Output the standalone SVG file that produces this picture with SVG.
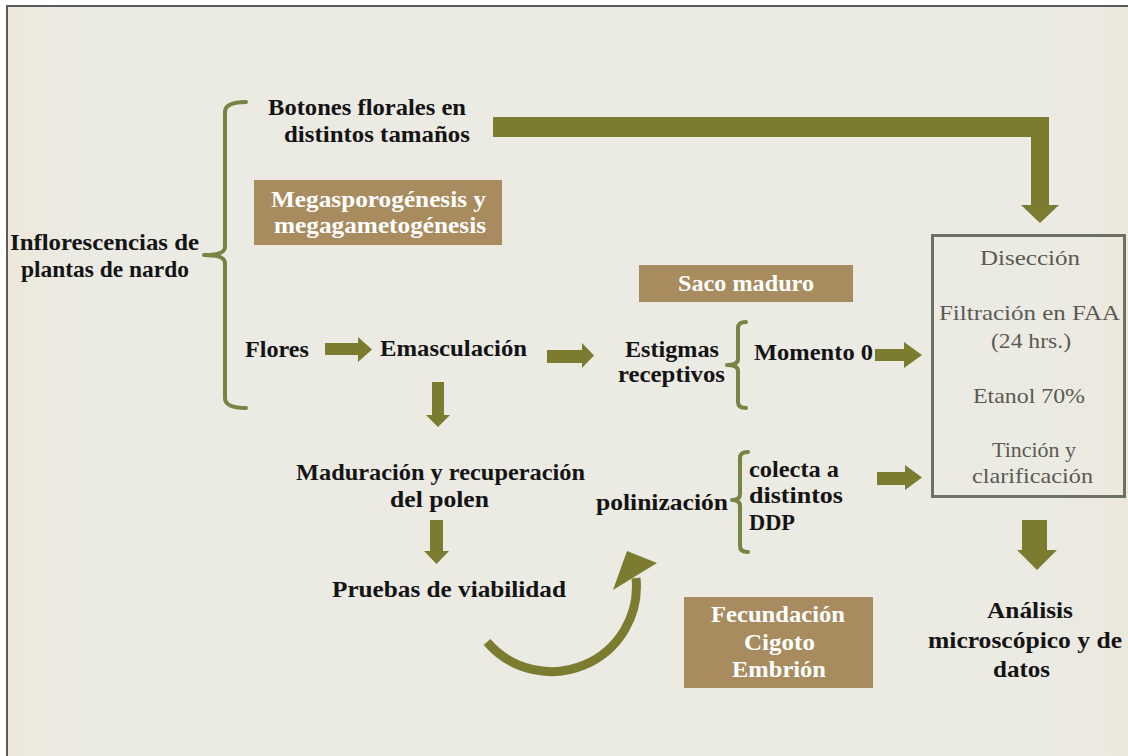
<svg xmlns="http://www.w3.org/2000/svg" width="1128" height="756" viewBox="0 0 1128 756">
<defs>
<linearGradient id="bg" x1="0" y1="0" x2="1" y2="0">
<stop offset="0" stop-color="#eee8da"/>
<stop offset="0.06" stop-color="#ebeae3"/>
<stop offset="0.94" stop-color="#ebeae3"/>
<stop offset="1" stop-color="#ede8dc"/>
</linearGradient>
<style>
.t{font-family:"Liberation Serif","DejaVu Serif",serif;font-weight:bold;font-size:22.5px;fill:#141414}
.w{fill:#ffffff}
.g{font-family:"Liberation Serif","DejaVu Serif",serif;font-weight:normal;font-size:22px;fill:#5a5a52}
.arr{fill:#7b7c30}
.br{fill:none;stroke:#778544;stroke-width:4;stroke-linejoin:round;stroke-linecap:round}
.tan{fill:#a88b5e}
</style>
</defs>
<rect x="0" y="0" width="1128" height="756" fill="#ffffff"/>
<rect x="7" y="6" width="1121" height="750" fill="url(#bg)"/>
<path d="M7,756 V6 H1128" fill="none" stroke="#5a5a5a" stroke-width="2"/>

<g id="connectors">
<path class="arr" d="M493,117 H1049 V205 H1059 L1040,223 L1021,205 H1031 V137 H493 Z"/>
<path class="arr" d="M325,343 H358 V337 L372,349.5 L358,362 V355 H325 Z"/>
<path class="arr" d="M547,350 H582 V343 L594,355.5 L582,368 V363 H547 Z"/>
<path class="arr" d="M432,382 H444 V415 H450 L438,427 L426,415 H432 Z"/>
<path class="arr" d="M430,520 H443 V551 H449 L436.5,564 L424,551 H430 Z"/>
<path class="arr" d="M875,349 H904 V342 L922,355 L904,368 V361 H875 Z"/>
<path class="arr" d="M877,472 H905 V465 L922,477.5 L905,490 V485 H877 Z"/>
<path class="arr" d="M1022,520 H1047 V550 H1057 L1037,570 L1017,550 H1022 Z"/>
<path d="M487,642 A85,85 0 0,0 636,578" fill="none" stroke="#7b7c30" stroke-width="9"/>
<polygon class="arr" points="613,590 657,563 627,551"/>
<path class="br" d="M246,102 Q225,102 225,112 V247 Q225,255 204,255 Q225,255 225,263 V398 Q225,408 246,408"/>
<path class="br" d="M746,322 Q738,322 738,328 V359 Q738,365 727,365 Q738,365 738,371 V402 Q738,408 746,408"/>
<path class="br" d="M748,452 Q740,452 740,458 V494 Q740,500 732,500 Q740,500 740,506 V546 Q740,552 748,552"/>
</g>

<g id="n-inflorescencias">
<text class="t" x="10" y="250" textLength="189" lengthAdjust="spacingAndGlyphs">Inflorescencias de</text>
<text class="t" x="21" y="277" textLength="168" lengthAdjust="spacingAndGlyphs">plantas de nardo</text>
</g>
<g id="n-botones">
<text class="t" x="268" y="115" textLength="198" lengthAdjust="spacingAndGlyphs">Botones florales en</text>
<text class="t" x="284" y="142" textLength="186" lengthAdjust="spacingAndGlyphs">distintos tamaños</text>
</g>
<g id="n-megasporo">
<rect class="tan" x="254" y="180" width="248" height="65"/>
<text class="t w" x="271" y="207" textLength="215" lengthAdjust="spacingAndGlyphs">Megasporogénesis y</text>
<text class="t w" x="274" y="233" textLength="212" lengthAdjust="spacingAndGlyphs">megagametogénesis</text>
</g>
<g id="n-flores">
<text class="t" x="245" y="357" textLength="64" lengthAdjust="spacingAndGlyphs">Flores</text>
</g>
<g id="n-emasculacion">
<text class="t" x="380" y="356" textLength="147" lengthAdjust="spacingAndGlyphs">Emasculación</text>
</g>
<g id="n-saco">
<rect class="tan" x="639" y="265" width="214" height="37"/>
<text class="t w" x="678" y="291" textLength="136" lengthAdjust="spacingAndGlyphs">Saco maduro</text>
</g>
<g id="n-estigmas">
<text class="t" x="625" y="357" textLength="94" lengthAdjust="spacingAndGlyphs">Estigmas</text>
<text class="t" x="618" y="382" textLength="107" lengthAdjust="spacingAndGlyphs">receptivos</text>
</g>
<g id="n-momento">
<text class="t" x="754" y="360" textLength="119" lengthAdjust="spacingAndGlyphs">Momento 0</text>
</g>
<g id="n-maduracion">
<text class="t" x="296" y="480" textLength="289" lengthAdjust="spacingAndGlyphs">Maduración y recuperación</text>
<text class="t" x="390" y="507" textLength="99" lengthAdjust="spacingAndGlyphs">del polen</text>
</g>
<g id="n-pruebas">
<text class="t" x="332" y="597" textLength="234" lengthAdjust="spacingAndGlyphs">Pruebas de viabilidad</text>
</g>
<g id="n-polinizacion">
<text class="t" x="596" y="510" textLength="132" lengthAdjust="spacingAndGlyphs">polinización</text>
</g>
<g id="n-colecta">
<text class="t" x="749" y="477" textLength="90" lengthAdjust="spacingAndGlyphs">colecta a</text>
<text class="t" x="749" y="503" textLength="94" lengthAdjust="spacingAndGlyphs">distintos</text>
<text class="t" x="749" y="530" textLength="46" lengthAdjust="spacingAndGlyphs">DDP</text>
</g>
<g id="n-fecundacion">
<rect class="tan" x="684" y="597" width="189" height="91"/>
<text class="t w" x="711" y="622" textLength="134" lengthAdjust="spacingAndGlyphs">Fecundación</text>
<text class="t w" x="744" y="650" textLength="71" lengthAdjust="spacingAndGlyphs">Cigoto</text>
<text class="t w" x="732" y="677" textLength="94" lengthAdjust="spacingAndGlyphs">Embrión</text>
</g>
<g id="n-proceso">
<rect x="932.5" y="235.5" width="192" height="261" fill="none" stroke="#6d7064" stroke-width="3"/>
<text class="g" x="980" y="265" textLength="100" lengthAdjust="spacingAndGlyphs">Disección</text>
<text class="g" x="939" y="320" textLength="181" lengthAdjust="spacingAndGlyphs">Filtración en FAA</text>
<text class="g" x="991" y="348" textLength="80" lengthAdjust="spacingAndGlyphs">(24 hrs.)</text>
<text class="g" x="973" y="403" textLength="112" lengthAdjust="spacingAndGlyphs">Etanol 70%</text>
<text class="g" x="992" y="457" textLength="84" lengthAdjust="spacingAndGlyphs">Tinción y</text>
<text class="g" x="972" y="483" textLength="121" lengthAdjust="spacingAndGlyphs">clarificación</text>
</g>
<g id="n-analisis">
<text class="t" x="987" y="618" textLength="86" lengthAdjust="spacingAndGlyphs">Análisis</text>
<text class="t" x="928" y="648" textLength="194" lengthAdjust="spacingAndGlyphs">microscópico y de</text>
<text class="t" x="993" y="677" textLength="57" lengthAdjust="spacingAndGlyphs">datos</text>
</g>
</svg>
